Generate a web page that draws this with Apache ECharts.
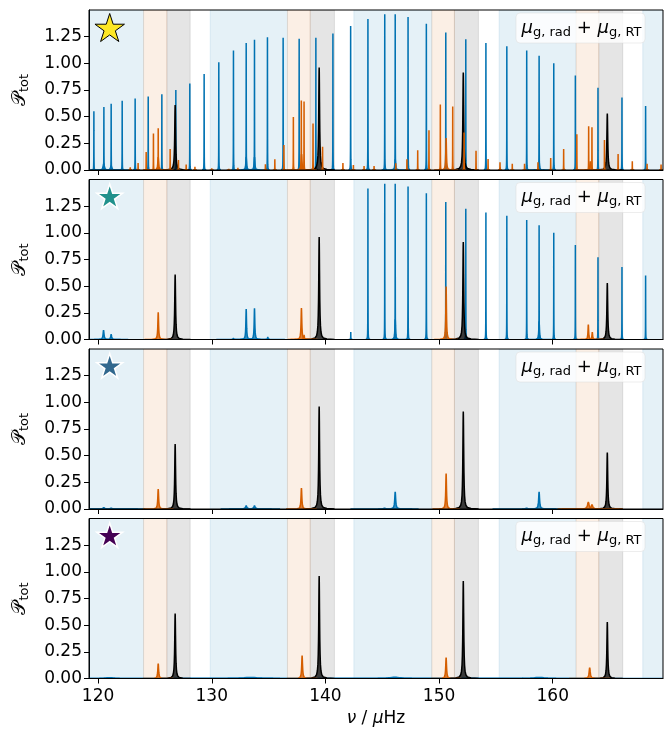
<!DOCTYPE html>
<html>
<head>
<meta charset="utf-8">
<script src="https://cdn.jsdelivr.net/npm/echarts@6/dist/echarts.min.js"></script>
<style>
  html, body { margin: 0; padding: 0; background: #fff; }
  #chart { width: 665px; height: 732px; }
</style>
</head>
<body>
<div id="chart"></div>
<script>
// frequency range and ticks (µHz)
const nuMin = 119.2;
const nuMax = 169.7;
const xTicks = [120, 130, 140, 150, 160];
const yTicks = [0, 0.25, 0.5, 0.75, 1.0, 1.25];

// shaded windows [start, end]
const blueBands = [[119.2, 124.0], [129.86, 136.66], [142.5, 149.36], [155.28, 162.05], [167.92, 169.7]];
const orangeBands = [[124.0, 126.05], [136.66, 138.66], [149.36, 151.35], [162.05, 164.05]];
const grayBands = [[126.05, 128.1], [138.66, 140.79], [151.35, 153.46], [164.05, 166.16]];

// peaks: [nu, P_tot, linewidth]
const blackPeaks = [[126.78, 0.61, 0.09], [139.45, 0.96, 0.09], [152.13, 0.915, 0.09], [164.8, 0.53, 0.09]];

const blueSpikes = [
  [119.63, 0.55, 0.012], [120.51, 0.59, 0.012], [121.15, 0.62, 0.012], [122.12, 0.65, 0.012],
  [123.26, 0.67, 0.012], [124.41, 0.69, 0.012], [125.61, 0.71, 0.012], [126.84, 0.75, 0.012],
  [128.07, 0.81, 0.012], [129.33, 0.90, 0.012], [130.62, 1.01, 0.012], [131.91, 1.12, 0.012],
  [133.03, 1.19, 0.012], [133.76, 1.22, 0.012], [134.90, 1.245, 0.012], [136.28, 1.24, 0.012],
  [137.69, 1.23, 0.012], [139.16, 1.24, 0.012], [140.66, 1.28, 0.012], [142.22, 1.35, 0.012],
  [143.74, 1.415, 0.012], [145.22, 1.46, 0.012], [146.14, 1.46, 0.012], [147.27, 1.435, 0.012],
  [148.88, 1.37, 0.012], [150.59, 1.29, 0.012], [152.35, 1.225, 0.012], [154.12, 1.19, 0.012],
  [155.96, 1.16, 0.012], [157.71, 1.12, 0.012], [158.80, 1.07, 0.012], [160.09, 1.00, 0.012],
  [161.99, 0.885, 0.012], [163.98, 0.77, 0.012], [166.09, 0.68, 0.012], [168.17, 0.60, 0.012]
];
const blueBroad1 = [[120.5, 0.06, 0.12], [121.15, 0.04, 0.12], [133.03, 0.12, 0.08], [133.76, 0.12, 0.08],
  [146.14, 0.1, 0.08], [158.8, 0.08, 0.08]];

const orangeSpikes = [
  [122.83, 0.025, 0.012], [123.52, 0.066, 0.012], [124.23, 0.168, 0.012], [124.87, 0.342, 0.012],
  [125.29, 0.391, 0.012], [126.34, 0.196, 0.012], [127.07, 0.093, 0.012], [127.75, 0.05, 0.012],
  [128.52, 0.03, 0.012], [130.0, 0.016, 0.012], [131.5, 0.01, 0.012], [132.3, 0.02, 0.012],
  [134.72, 0.053, 0.012], [135.55, 0.10, 0.012], [136.35, 0.235, 0.012], [137.18, 0.497, 0.012],
  [137.88, 0.652, 0.012], [138.12, 0.642, 0.012], [138.91, 0.437, 0.012], [139.75, 0.217, 0.012],
  [141.54, 0.065, 0.012], [142.46, 0.047, 0.012], [143.4, 0.037, 0.012], [144.28, 0.037, 0.012],
  [146.19, 0.062, 0.012], [147.17, 0.10, 0.012], [148.12, 0.186, 0.012], [149.11, 0.372, 0.012],
  [150.11, 0.615, 0.012], [151.2, 0.596, 0.012], [152.2, 0.351, 0.012], [153.25, 0.18, 0.012],
  [154.31, 0.102, 0.012], [155.36, 0.072, 0.012], [156.44, 0.059, 0.012], [157.52, 0.059, 0.012],
  [158.7, 0.072, 0.012], [159.82, 0.112, 0.012], [160.96, 0.196, 0.012], [162.12, 0.335, 0.012],
  [163.16, 0.41, 0.012], [163.45, 0.40, 0.012], [164.55, 0.28, 0.012], [165.75, 0.15, 0.012],
  [167.0, 0.082, 0.012], [168.3, 0.058, 0.012], [169.53, 0.05, 0.012]
];
const orangeBroad1 = [[125.29, 0.12, 0.09], [137.9, 0.15, 0.09], [150.62, 0.3, 0.07], [163.3, 0.08, 0.08]];

// panel 2
const blue2 = [[120.48, 0.087, 0.1], [121.15, 0.047, 0.1], [131.9, 0.01, 0.1], [133.03, 0.286, 0.07],
  [133.76, 0.292, 0.07], [134.93, 0.02, 0.1], [142.23, 0.07, 0.012], [146.14, 0.19, 0.07], [158.8, 0.17, 0.07]];
const orange2 = [[125.29, 0.254, 0.08], [137.89, 0.295, 0.08], [138.12, 0.04, 0.08], [150.62, 0.496, 0.07],
  [163.13, 0.14, 0.07], [163.48, 0.068, 0.07]];

// panel 3
const blue3 = [[120.5, 0.012, 0.2], [121.15, 0.008, 0.2], [133.03, 0.03, 0.15], [133.76, 0.03, 0.15],
  [145.2, 0.008, 0.2], [146.14, 0.161, 0.1], [157.7, 0.008, 0.2], [158.8, 0.16, 0.1]];
const orange3 = [[125.29, 0.186, 0.09], [137.89, 0.196, 0.09], [150.62, 0.333, 0.08], [163.13, 0.063, 0.18],
  [163.45, 0.04, 0.18]];

// panel 4
const blue4 = [[121.0, 0.008, 1.0], [133.4, 0.01, 1.6], [146.1, 0.012, 1.2], [158.8, 0.01, 1.2]];
const orange4 = [[125.29, 0.14, 0.09], [137.95, 0.214, 0.09], [150.62, 0.196, 0.09], [163.25, 0.102, 0.12]];

const starColors = ['#FDE725', '#21918C', '#31688E', '#440154'];

const panels = [
  { blue: blueBroad1.concat(blueSpikes), orange: orangeBroad1.concat(orangeSpikes) },
  { blue: blue2.concat(blueSpikes.filter(p => p[0] > 143)), orange: orange2 },
  { blue: blue3, orange: orange3 },
  { blue: blue4, orange: orange4 }
];

const C_BLUE = '#0072B2', C_ORANGE = '#D55E00', C_BLACK = '#000000';
const FONT = 'DejaVu Sans';
const LEFT = 89, WIDTH = 574, HEIGHT = 160;
const tops = [10, 179.5, 349, 518.5];

// Lorentzian profile offsets in units of half width
const K = [-30, -15, -8, -5, -3.5, -2.5, -1.8, -1.3, -1, -0.7, -0.4, -0.2, 0,
  0.2, 0.4, 0.7, 1, 1.3, 1.8, 2.5, 3.5, 5, 8, 15, 30];

function peakRender(color) {
  return function (params, api) {
    const c = api.value(0), h = api.value(1), g = api.value(2) / 2;
    const pts = K.map(k => api.coord([c + k * g, h / (1 + k * k)]));
    const b0 = api.coord([c + K[0] * g, 0]);
    const b1 = api.coord([c + K[K.length - 1] * g, 0]);
    return {
      type: 'group',
      children: [
        { type: 'polygon', shape: { points: [b0].concat(pts, [b1]) }, style: { fill: color, opacity: 0.75 } },
        { type: 'polyline', shape: { points: pts }, style: { stroke: color, lineWidth: 1.5, fill: null, lineJoin: 'bevel' } }
      ]
    };
  };
}

const bandData = blueBands.map(b => [b[0], b[1], 0])
  .concat(orangeBands.map(b => [b[0], b[1], 1]))
  .concat(grayBands.map(b => [b[0], b[1], 2]));
const bandFill = ['rgba(0,114,178,0.1)', 'rgba(213,94,0,0.1)', 'rgba(0,0,0,0.1)'];

function bandRender(params, api) {
  const cs = params.coordSys;
  const x0 = api.coord([api.value(0), 0])[0];
  const x1 = api.coord([api.value(1), 0])[0];
  return {
    type: 'rect',
    shape: { x: x0, y: cs.y, width: x1 - x0, height: cs.height },
    style: { fill: bandFill[api.value(2)], stroke: bandFill[api.value(2)], lineWidth: 1 }
  };
}

const grids = [], xAxes = [], yAxes = [], series = [], graphics = [];

tops.forEach((top, i) => {
  grids.push({ left: LEFT, top: top, width: WIDTH, height: HEIGHT, show: true, z: 10,
    backgroundColor: 'transparent', borderColor: '#000', borderWidth: 1 });
  xAxes.push({
    gridIndex: i, type: 'value', min: nuMin, max: nuMax,
    axisLine: { show: true, onZero: false, lineStyle: { color: '#000', width: 1 } },
    axisTick: { show: true, length: 5, customValues: xTicks, lineStyle: { color: '#000', width: 1 } },
    axisLabel: { show: i === 3, customValues: xTicks, fontSize: 17, color: '#000', margin: 10, fontFamily: FONT },
    splitLine: { show: false },
    name: i === 3 ? '{i|ν} / {i|μ}Hz' : '',
    nameLocation: 'middle', nameGap: 32,
    nameTextStyle: { fontSize: 17, color: '#000', fontFamily: FONT,
      rich: { i: { fontSize: 17, fontStyle: 'italic', fontFamily: FONT, color: '#000' } } }
  });
  yAxes.push({
    gridIndex: i, type: 'value', min: 0, max: 1.5,
    axisLine: { show: true, lineStyle: { color: '#000', width: 1 } },
    axisTick: { show: true, length: 5, customValues: yTicks, lineStyle: { color: '#000', width: 1 } },
    axisLabel: { fontSize: 17, color: '#000', margin: 7, fontFamily: FONT, customValues: yTicks,
      formatter: v => v.toFixed(2) },
    splitLine: { show: false },
    name: '{p|𝒫}{t|tot}', nameLocation: 'middle', nameGap: 58,
    nameTextStyle: { color: '#000',
      rich: { p: { fontSize: 19, fontFamily: FONT, color: '#000', verticalAlign: 'middle', lineHeight: 22 },
              t: { fontSize: 13, fontFamily: FONT, color: '#000', verticalAlign: 'bottom', lineHeight: 22 } } }
  });

  series.push({ type: 'custom', xAxisIndex: i, yAxisIndex: i, renderItem: bandRender,
    data: bandData, encode: { x: [0, 1] }, clip: true, silent: true });
  series.push({ type: 'custom', xAxisIndex: i, yAxisIndex: i, renderItem: peakRender(C_BLUE),
    data: panels[i].blue, encode: { x: 0, y: 1 }, clip: true, silent: true });
  series.push({ type: 'custom', xAxisIndex: i, yAxisIndex: i, renderItem: peakRender(C_BLACK),
    data: blackPeaks, encode: { x: 0, y: 1 }, clip: true, silent: true });
  series.push({ type: 'custom', xAxisIndex: i, yAxisIndex: i, renderItem: peakRender(C_ORANGE),
    data: panels[i].orange, encode: { x: 0, y: 1 }, clip: true, silent: true });

  // star marker
  const R = i === 0 ? 15.5 : 13.5;
  const cx = 109.7, cy = top + (i === 0 ? 19 : 18);
  const pts = [];
  for (let k = 0; k < 10; k++) {
    const a = -Math.PI / 2 + k * Math.PI / 5;
    const r = k % 2 === 0 ? R : R * 0.382;
    pts.push([cx + r * Math.cos(a), cy + r * Math.sin(a)]);
  }
  graphics.push({ type: 'polygon', z: 100, shape: { points: pts },
    style: { fill: starColors[i], stroke: i === 0 ? '#000' : '#fff', lineWidth: i === 0 ? 1 : 1.5 } });

  // annotation box
  graphics.push({ type: 'rect', z: 100, shape: { x: 516, y: top + 3, width: 129, height: 30, r: 4 },
    style: { fill: 'rgba(255,255,255,0.8)', stroke: 'rgba(220,220,220,0.5)', lineWidth: 1 } });
  graphics.push({ type: 'text', z: 101, x: 521.5, y: top + 18,
    style: {
      text: '{m|μ}{s|g, rad}{p| + }{m|μ}{s|g, RT}',
      verticalAlign: 'middle', align: 'left',
      rich: {
        m: { fontSize: 18, fontStyle: 'italic', fontFamily: FONT, fill: '#000', verticalAlign: 'middle', lineHeight: 22 },
        s: { fontSize: 13, fontFamily: FONT, fill: '#000', verticalAlign: 'bottom', lineHeight: 22 },
        p: { fontSize: 18, fontFamily: FONT, fill: '#000', verticalAlign: 'middle', lineHeight: 22 }
      }
    } });
});

const chart = echarts.init(document.getElementById('chart'), null, { renderer: 'canvas' });
chart.setOption({
  animation: false,
  backgroundColor: '#fff',
  grid: grids,
  xAxis: xAxes,
  yAxis: yAxes,
  series: series,
  graphic: graphics
});
</script>
</body>
</html>
